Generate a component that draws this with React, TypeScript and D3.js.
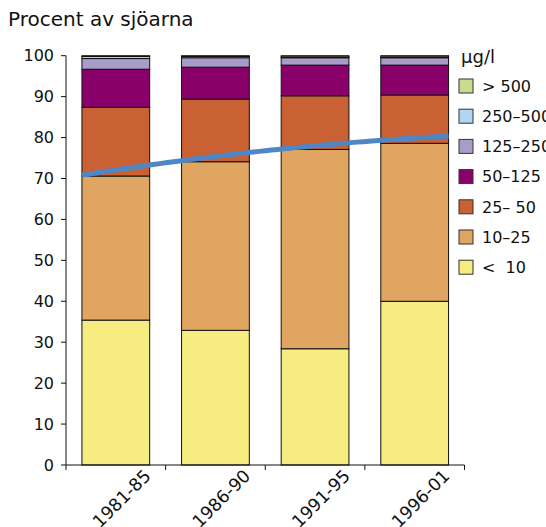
import React from "react";
import * as d3 from "d3";

const categories = ["1981-85", "1986-90", "1991-95", "1996-01"];
const seriesNames = ["<  10", "10–25", "25– 50", "50–125", "125–250", "250–500", "> 500"];
const seriesColors = ["#f6ec80", "#e0a560", "#c96134", "#8a006a", "#aa9cc8", "#b0d6f4", "#c6dc8e"];
const lt10 = [35.4, 32.9, 28.4, 40.0];
const s10to25 = [35.2, 41.2, 48.7, 38.6];
const s25to50 = [16.8, 15.3, 13.1, 11.8];
const s50to125 = [9.3, 7.8, 7.5, 7.3];
const s125to250 = [2.6, 2.3, 1.8, 1.8];
const s250to500 = [0.5, 0.3, 0.2, 0.2];
const gt500 = [0.2, 0.2, 0.3, 0.3];
const trendValues = [72.1, 75.4, 78.0, 79.9];
const yTicks = [0, 10, 20, 30, 40, 50, 60, 70, 80, 90, 100];
const title = "Procent av sjöarna";
const legendTitle = "µg/l";

const W = 546;
const H = 527;
const FONT = "DejaVu Sans, Verdana, sans-serif";

export default function App() {
  const series = [lt10, s10to25, s25to50, s50to125, s125to250, s250to500, gt500];
  const rows = categories.map((c, i) => {
    const r: any = { cat: c };
    seriesNames.forEach((n, k) => (r[n] = series[k][i]));
    return r;
  });
  const stacked = d3.stack<any>().keys(seriesNames)(rows);

  const x = d3.scaleBand<string>().domain(categories).range([66, 464.5]).paddingInner(0.32).paddingOuter(0.16);
  const y = d3.scaleLinear().domain([0, 100]).range([465, 55.7]);
  const bw = x.bandwidth();
  const step = x.step();

  // quadratic least-squares trend line through trendValues (index units)
  const n = trendValues.length;
  const xs = trendValues.map((_, i) => i);
  const sums = (p: number) => d3.sum(xs, (v) => Math.pow(v, p));
  const sy = (p: number) => d3.sum(xs, (v, i) => Math.pow(v, p) * trendValues[i]);
  const A = [
    [n, sums(1), sums(2)],
    [sums(1), sums(2), sums(3)],
    [sums(2), sums(3), sums(4)],
  ];
  const B = [sy(0), sy(1), sy(2)];
  const det3 = (m: number[][]) =>
    m[0][0] * (m[1][1] * m[2][2] - m[1][2] * m[2][1]) -
    m[0][1] * (m[1][0] * m[2][2] - m[1][2] * m[2][0]) +
    m[0][2] * (m[1][0] * m[2][1] - m[1][1] * m[2][0]);
  const D = det3(A);
  const coef = [0, 1, 2].map((k) => {
    const M = A.map((row, r) => row.map((v, c) => (c === k ? B[r] : v)));
    return det3(M) / D;
  });
  const f = (t: number) => coef[0] + coef[1] * t + coef[2] * t * t;
  const c0 = (x(categories[0]) as number) + bw / 2;
  const tStart = -(bw / 2) / step;
  const tEnd = n - 1 + (bw / 2) / step;
  const samples = d3.range(0, 61).map((k) => tStart + ((tEnd - tStart) * k) / 60);
  const line = d3
    .line<number>()
    .x((t) => c0 + t * step)
    .y((t) => y(f(t)))
    .curve(d3.curveLinear);

  const boundaries = [...categories.map((c) => x(c) as number - (step - bw) / 2), 464.5];

  return (
    <svg width={W} height={H} style={{ position: "absolute", left: 0, top: 0 }} fontFamily={FONT}>
      <rect width={W} height={H} fill="#ffffff" />
      <text x={8} y={26} fontSize={20} fill="#111">{title}</text>

      {stacked.map((s, k) => (
        <g key={k} fill={seriesColors[k]}>
          {s.map((d, i) => (
            <rect
              key={i}
              x={x(categories[i])}
              y={y(d[1])}
              width={bw}
              height={Math.max(0, y(d[0]) - y(d[1]))}
              stroke="#111"
              strokeWidth={1}
            />
          ))}
        </g>
      ))}

      <path d={line(samples) || ""} fill="none" stroke="#4f86c6" strokeWidth={5} />

      {/* y axis */}
      <line x1={66} x2={66} y1={y(100)} y2={y(0)} stroke="#111" />
      {yTicks.map((t) => (
        <g key={t}>
          <line x1={61} x2={66} y1={y(t)} y2={y(t)} stroke="#111" />
          <text x={54} y={y(t)} dy="0.36em" textAnchor="end" fontSize={16} fill="#111">
            {t}
          </text>
        </g>
      ))}

      {/* x axis */}
      <line x1={66} x2={464.5} y1={y(0)} y2={y(0)} stroke="#111" />
      {boundaries.map((b, i) => (
        <line key={i} x1={b} x2={b} y1={y(0)} y2={y(0) + 5} stroke="#111" />
      ))}
      {categories.map((c) => {
        const cx = (x(c) as number) + bw / 2 + 36;
        const cy = 477;
        return (
          <text key={c} x={cx} y={cy} textAnchor="end" fontSize={17.5} fill="#111" transform={`rotate(-45 ${cx} ${cy})`}>
            {c}
          </text>
        );
      })}

      {/* legend */}
      <text x={461} y={63} fontSize={18} fill="#111">{legendTitle}</text>
      {seriesNames
        .map((name, k) => ({ name, k }))
        .reverse()
        .map((d, i) => {
          const cy = 86 + i * 30.2;
          return (
            <g key={d.name}>
              <rect x={459} y={cy - 7} width={14} height={14} fill={seriesColors[d.k]} stroke="#333" strokeWidth={1} />
              <text x={482} y={cy} dy="0.36em" fontSize={16} fill="#111" style={{ whiteSpace: "pre" }}>
                {d.name}
              </text>
            </g>
          );
        })}
    </svg>
  );
}
